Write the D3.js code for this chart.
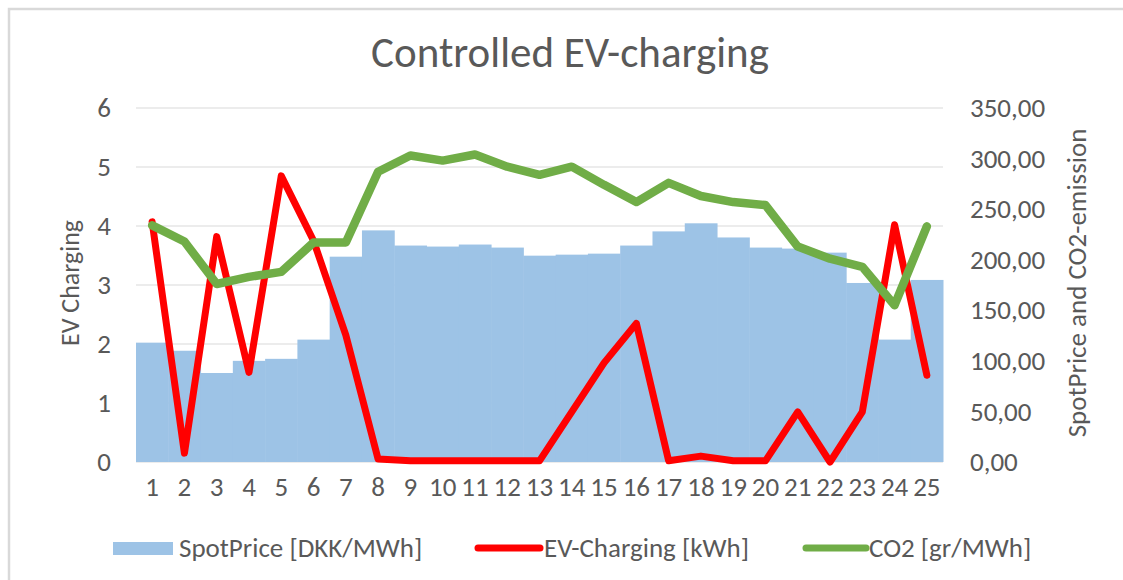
<!DOCTYPE html>
<html lang="en">
<head>
    <meta charset="UTF-8">
    <title>Controlled EV-charging</title>
    <script src="https://d3js.org/d3.v7.min.js"></script>
    <style>
        body { margin: 0; background: #fff; }
        svg text { font-family: Carlito, "Liberation Sans Narrow", "Open Sans", sans-serif; fill: #595959; }
    </style>
</head>
<body>
    <svg width="1123" height="580"></svg>

    <script type="text/javascript">
        // Data
        const hours = d3.range(1, 26);
        const spotPrice = [118, 110, 88, 100, 102, 121, 203, 229, 214, 213, 215, 212, 204,
                           205, 206, 214, 228, 236, 222, 212, 211, 207, 177, 121, 180];
        const evCharging = [4.07, 0.15, 3.82, 1.52, 4.85, 3.75, 2.15, 0.05, 0.02, 0.02, 0.02, 0.02, 0.02,
                            0.85, 1.68, 2.35, 0.02, 0.1, 0.02, 0.02, 0.85, 0.0, 0.85, 4.02, 1.47];
        const co2 = [234, 218, 176, 183, 188, 217, 217, 287, 303, 298, 304, 292, 284,
                     292, 274, 257, 276, 263, 257, 254, 213, 201, 193, 155, 233];
        const leftTicks = [0, 1, 2, 3, 4, 5, 6];
        const rightTicks = [0, 50, 100, 150, 200, 250, 300, 350];

        const width = 1123;
        const height = 580;
        const margin = { top: 108, right: 180, bottom: 118, left: 136 };

        const svg = d3.select('svg');

        // outer chart border
        svg.append('rect')
            .attr('x', 9).attr('y', 9)
            .attr('width', width + 20).attr('height', height + 20)
            .attr('fill', 'none')
            .attr('stroke', '#d9d9d9')
            .attr('stroke-width', 2.5);

        const x = d3.scaleBand()
            .domain(hours)
            .range([margin.left, width - margin.right])
            .padding(0);

        const yL = d3.scaleLinear().domain([0, 6]).range([height - margin.bottom, margin.top]);
        const yR = d3.scaleLinear().domain([0, 350]).range([height - margin.bottom, margin.top]);

        // gridlines
        svg.append('g')
            .selectAll('line')
            .data(leftTicks)
            .join('line')
            .attr('x1', margin.left)
            .attr('x2', width - margin.right)
            .attr('y1', d => yL(d))
            .attr('y2', d => yL(d))
            .attr('stroke', '#d9d9d9')
            .attr('stroke-width', 1);

        // bars
        svg.append('g')
            .selectAll('rect')
            .data(spotPrice)
            .join('rect')
            .attr('x', (d, i) => x(hours[i]))
            .attr('y', d => yR(d))
            .attr('width', x.bandwidth() + 0.5)
            .attr('height', d => yR(0) - yR(d))
            .attr('fill', '#9dc3e6');

        const cx = i => x(hours[i]) + x.bandwidth() / 2;

        svg.append('path')
            .datum(evCharging)
            .attr('fill', 'none')
            .attr('stroke', '#ff0000')
            .attr('stroke-width', 7)
            .attr('stroke-linejoin', 'round')
            .attr('stroke-linecap', 'round')
            .attr('d', d3.line().x((d, i) => cx(i)).y(d => yL(d)));

        svg.append('path')
            .datum(co2)
            .attr('fill', 'none')
            .attr('stroke', '#70ad47')
            .attr('stroke-width', 8.5)
            .attr('stroke-linejoin', 'round')
            .attr('stroke-linecap', 'round')
            .attr('d', d3.line().x((d, i) => cx(i)).y(d => yR(d)));

        // axes (labels only, like Excel)
        const leftAxis = svg.append('g')
            .attr('transform', `translate(104,0)`)
            .call(d3.axisLeft(yL).tickValues(leftTicks).tickSize(0).tickPadding(0).tickFormat(d3.format('d')));
        leftAxis.select('.domain').remove();
        leftAxis.selectAll('text').attr('font-size', 27).attr('fill', '#595959')
            .attr('text-anchor', 'middle');

        const fmt = d => d3.format('.2f')(d).replace('.', ',');
        const rightAxis = svg.append('g')
            .attr('transform', `translate(970,0)`)
            .call(d3.axisRight(yR).tickValues(rightTicks).tickSize(0).tickPadding(0).tickFormat(fmt));
        rightAxis.select('.domain').remove();
        rightAxis.selectAll('text').attr('font-size', 27).attr('fill', '#595959');

        const bottomAxis = svg.append('g')
            .attr('transform', `translate(0,${height - margin.bottom + 12})`)
            .call(d3.axisBottom(x).tickSize(0));
        bottomAxis.select('.domain').remove();
        bottomAxis.selectAll('text').attr('font-size', 27).attr('fill', '#595959');

        // title
        svg.append('text')
            .attr('x', 570)
            .attr('y', 67)
            .attr('text-anchor', 'middle')
            .attr('font-size', 43)
            .text('Controlled EV-charging');

        svg.append('text')
            .attr('transform', `translate(79,${yL(3) - 2}) rotate(-90)`)
            .attr('text-anchor', 'middle')
            .attr('font-size', 26)
            .text('EV Charging');

        svg.append('text')
            .attr('transform', `translate(1086,${yL(3) - 2}) rotate(-90)`)
            .attr('text-anchor', 'middle')
            .attr('font-size', 27)
            .text('SpotPrice and CO2-emission');

        // legend
        const legend = svg.append('g').attr('transform', 'translate(0,548)');
        legend.append('rect')
            .attr('x', 113).attr('y', -6).attr('width', 60).attr('height', 13)
            .attr('fill', '#9dc3e6');
        legend.append('text').attr('x', 179).attr('y', 9).attr('font-size', 27)
            .text('SpotPrice [DKK/MWh]');
        legend.append('line')
            .attr('x1', 478).attr('x2', 540).attr('y1', 0).attr('y2', 0)
            .attr('stroke', '#ff0000').attr('stroke-width', 7).attr('stroke-linecap', 'round');
        legend.append('text').attr('x', 544).attr('y', 9).attr('font-size', 27)
            .text('EV-Charging [kWh]');
        legend.append('line')
            .attr('x1', 806).attr('x2', 866).attr('y1', 0).attr('y2', 0)
            .attr('stroke', '#70ad47').attr('stroke-width', 7).attr('stroke-linecap', 'round');
        legend.append('text').attr('x', 869).attr('y', 9).attr('font-size', 27)
            .text('CO2 [gr/MWh]');
    </script>
</body>
</html>
